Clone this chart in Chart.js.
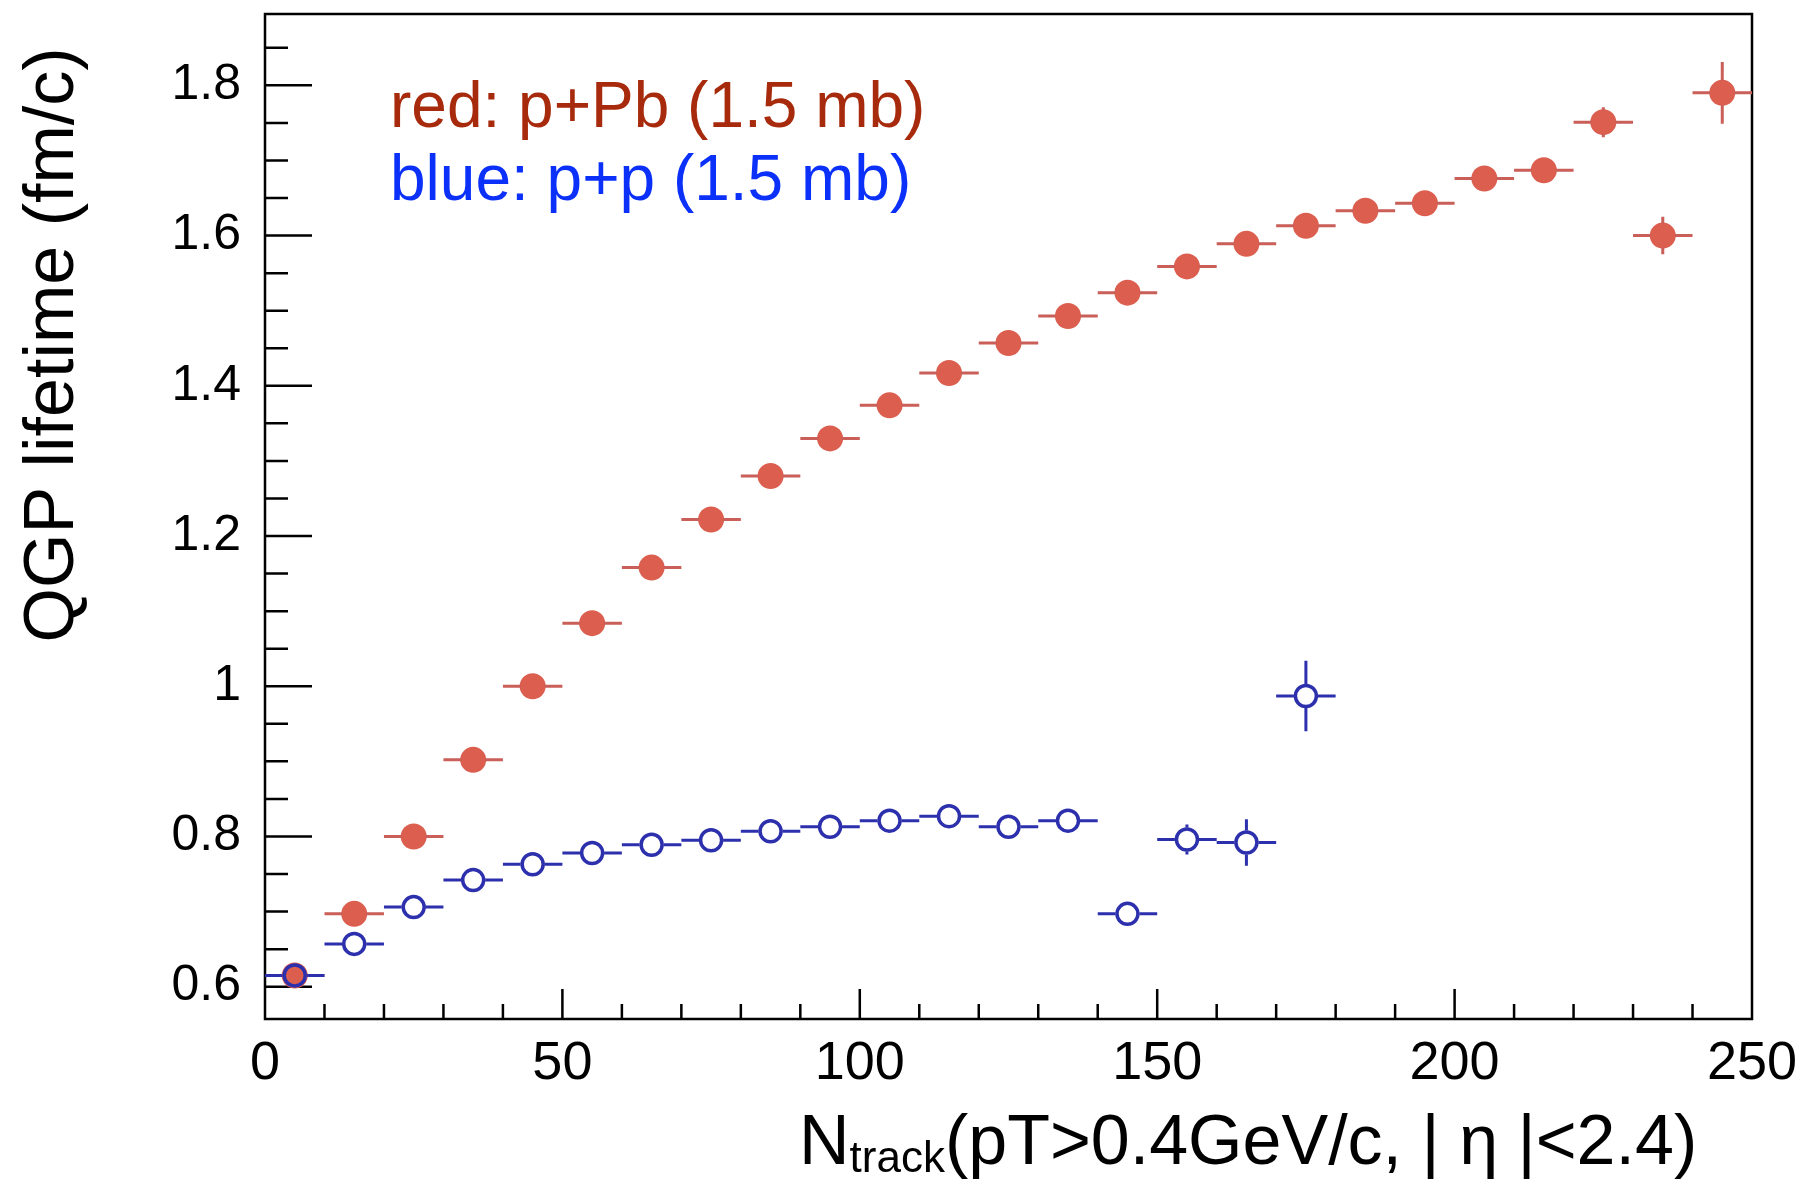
<!DOCTYPE html>
<html>
<head>
<meta charset="utf-8">
<script src="https://cdn.jsdelivr.net/npm/chart.js@4.4.1/dist/chart.umd.min.js"></script>
<style>
  html, body { margin: 0; padding: 0; background: #fff; }
</style>
</head>
<body>
<canvas id="qgpChart" width="1804" height="1179"></canvas>
<script>
// N_track bin centres (bins are 10 wide)
const nTrackPPb = [5, 15, 25, 35, 45, 55, 65, 75, 85, 95, 105, 115, 125, 135, 145, 155, 165, 175, 185, 195, 205, 215, 225, 235, 245];
const lifetimePPb = [0.615, 0.697, 0.800, 0.902, 1.000, 1.084, 1.158, 1.222, 1.280, 1.330, 1.374, 1.417, 1.457, 1.493, 1.524, 1.559, 1.589, 1.613, 1.633, 1.643, 1.676, 1.687, 1.751, 1.600, 1.790];
const errPPb = [0.005, 0.005, 0.005, 0.005, 0.005, 0.005, 0.005, 0.005, 0.005, 0.005, 0.005, 0.005, 0.005, 0.005, 0.006, 0.006, 0.007, 0.008, 0.008, 0.009, 0.010, 0.012, 0.020, 0.025, 0.041];

const nTrackPP = [5, 15, 25, 35, 45, 55, 65, 75, 85, 95, 105, 115, 125, 135, 145, 155, 165, 175];
const lifetimePP = [0.615, 0.657, 0.706, 0.742, 0.763, 0.778, 0.789, 0.795, 0.807, 0.813, 0.821, 0.827, 0.813, 0.821, 0.697, 0.796, 0.792, 0.987];
const errPP = [0.003, 0.003, 0.003, 0.003, 0.003, 0.004, 0.004, 0.004, 0.005, 0.005, 0.006, 0.006, 0.007, 0.008, 0.010, 0.020, 0.031, 0.047];

const binHalfWidth = 5;
const xTickLabels = [0, 50, 100, 150, 200, 250];
const yTickLabels = [0.6, 0.8, 1, 1.2, 1.4, 1.6, 1.8];

const FONT = '"Liberation Sans", Arial, Helvetica, sans-serif';
const RED = '#db5e4e';
const RED_BAR = '#c95f58';
const BLUE = '#2d30ac';

// error bars drawn around the markers (ROOT style: gaps where the marker sits)
const errorBars = {
  id: 'errorBars',
  afterDatasetsDraw(chart) {
    const { ctx, scales: { x, y } } = chart;
    ctx.save();
    chart.data.datasets.forEach((ds) => {
      const r = ds.barGap;
      ctx.strokeStyle = ds.barColor;
      ctx.lineWidth = 3;
      ds.data.forEach((p, i) => {
        const px = x.getPixelForValue(p.x);
        const py = y.getPixelForValue(p.y);
        const xl = x.getPixelForValue(p.x - binHalfWidth);
        const xr = x.getPixelForValue(p.x + binHalfWidth);
        const ey = Math.abs(y.getPixelForValue(p.y + ds.yErr[i]) - py);
        ctx.beginPath();
        ctx.moveTo(xl, py); ctx.lineTo(px - r, py);
        ctx.moveTo(px + r, py); ctx.lineTo(xr, py);
        if (ey > r) {
          ctx.moveTo(px, py - ey); ctx.lineTo(px, py - r);
          ctx.moveTo(px, py + r); ctx.lineTo(px, py + ey);
        }
        ctx.stroke();
      });
    });
    ctx.restore();
  }
};

// frame, inward ticks, titles and the text legend
const decorations = {
  id: 'decorations',
  beforeDatasetsDraw(chart) {
    const { ctx, chartArea: a, scales: { x, y } } = chart;
    ctx.save();
    ctx.strokeStyle = '#000';
    ctx.lineWidth = 2.5;
    ctx.strokeRect(a.left, a.top, a.right - a.left, a.bottom - a.top);
    ctx.beginPath();
    for (let k = 1; k < 25; k++) {
      const px = x.getPixelForValue(k * 10);
      const len = k % 5 === 0 ? 30 : 15;
      ctx.moveTo(px, a.bottom); ctx.lineTo(px, a.bottom - len);
    }
    for (let k = 12; k <= 37; k++) {
      const py = y.getPixelForValue(k * 0.05);
      const len = k % 4 === 0 ? 47 : 23;
      ctx.moveTo(a.left, py); ctx.lineTo(a.left + len, py);
    }
    ctx.stroke();
    ctx.restore();
  },
  afterDraw(chart) {
    const { ctx } = chart;
    ctx.save();
    ctx.textAlign = 'left';
    ctx.textBaseline = 'alphabetic';
    ctx.font = '64px ' + FONT;
    ctx.fillStyle = '#a82a0c';
    ctx.fillText('red: p+Pb (1.5 mb)', 390, 127);
    ctx.fillStyle = '#0a30fa';
    ctx.fillText('blue: p+p (1.5 mb)', 390, 200);

    // x title with subscript
    ctx.fillStyle = '#000';
    let xPos = 799;
    ctx.font = '70px ' + FONT;
    ctx.fillText('N', xPos, 1164);
    xPos += ctx.measureText('N').width;
    ctx.font = '44px ' + FONT;
    ctx.fillText('track', xPos, 1172);
    xPos += ctx.measureText('track').width;
    ctx.font = '70px ' + FONT;
    ctx.fillText('(pT>0.4GeV/c, | \u03b7 |<2.4)', xPos, 1164);

    // y title
    ctx.translate(73, 345);
    ctx.rotate(-Math.PI / 2);
    ctx.textAlign = 'center';
    ctx.font = '70px ' + FONT;
    ctx.fillText('QGP lifetime (fm/c)', 0, 0);
    ctx.restore();
  }
};

new Chart(document.getElementById('qgpChart'), {
  type: 'scatter',
  data: {
    datasets: [
      {
        label: 'red: p+Pb (1.5 mb)',
        data: nTrackPPb.map((n, i) => ({ x: n, y: lifetimePPb[i] })),
        yErr: errPPb,
        barColor: RED_BAR,
        barGap: 12,
        pointRadius: 13,
        pointHoverRadius: 13,
        pointBorderWidth: 0,
        backgroundColor: RED,
        borderColor: RED,
        order: 1
      },
      {
        label: 'blue: p+p (1.5 mb)',
        data: nTrackPP.map((n, i) => ({ x: n, y: lifetimePP[i] })),
        yErr: errPP,
        barColor: BLUE,
        barGap: 12,
        pointRadius: 10.5,
        pointHoverRadius: 10.5,
        pointBorderWidth: 3.5,
        backgroundColor: 'rgba(255,255,255,0)',
        borderColor: BLUE,
        order: 0
      }
    ]
  },
  options: {
    responsive: false,
    animation: false,
    devicePixelRatio: 1,
    layout: { padding: { left: 0, top: 14, right: 52, bottom: 0 } },
    plugins: {
      legend: { display: false },
      tooltip: { enabled: false }
    },
    scales: {
      x: {
        type: 'linear',
        min: 0,
        max: 250,
        grid: { display: false },
        border: { display: false },
        afterBuildTicks: (s) => { s.ticks = xTickLabels.map((v) => ({ value: v })); },
        afterFit: (s) => { s.height = 160; s.paddingLeft = 0; s.paddingRight = 0; },
        ticks: {
          color: '#000',
          padding: 5,
          maxRotation: 0,
          font: { family: FONT, size: 54 }
        }
      },
      y: {
        type: 'linear',
        min: 0.557,
        max: 1.895,
        grid: { display: false },
        border: { display: false },
        afterBuildTicks: (s) => { s.ticks = yTickLabels.map((v) => ({ value: v })); },
        afterFit: (s) => { s.width = 265; s.paddingTop = 0; s.paddingBottom = 0; },
        ticks: {
          color: '#000',
          padding: 16,
          callback: (v) => String(v),
          font: { family: FONT, size: 50 }
        }
      }
    }
  },
  plugins: [decorations, errorBars]
});
</script>
</body>
</html>
